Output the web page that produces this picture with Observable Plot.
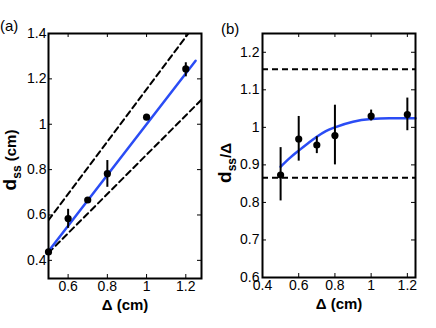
<!DOCTYPE html>
<html>
<head>
<meta charset="utf-8">
<script src="https://cdn.jsdelivr.net/npm/d3@7"></script>
<script src="https://cdn.jsdelivr.net/npm/@observablehq/plot@0.6"></script>
<style>
  body { margin: 0; background: #fff; }
  #wrap { position: relative; width: 436px; height: 328px; overflow: hidden; font-family: "Liberation Sans", Arial, sans-serif; }
  .panel { position: absolute; top: 0; }
  .panel svg { overflow: visible; }
  .tag { position: absolute; font-size: 15px; color: #000; }
</style>
</head>
<body>
<div id="wrap">
  <div class="panel" id="pa" style="left:0"></div>
  <div class="panel" id="pb" style="left:218px"></div>
  <div class="tag" style="left:0px; top:17px">(a)</div>
  <div class="tag" style="left:221px; top:20px">(b)</div>
</div>
<script>
// ---------- data ----------
// panel (a): d_ss vs Delta
const deltaA = [0.5, 0.6, 0.7, 0.8, 1.0, 1.2];
const dssA   = [0.437, 0.584, 0.666, 0.782, 1.031, 1.244];
const dssLoA = [0.437, 0.541, 0.655, 0.722, 1.025, 1.209];
const dssHiA = [0.437, 0.625, 0.677, 0.840, 1.037, 1.271];
const fitAx = [0.5, 1.25];
const fitAy = [0.44, 1.28];
const upperAx = [0.5, 1.25];
const upperAy = [0.577, 1.443];
const lowerAx = [0.5, 1.28];
const lowerAy = [0.433, 1.108];
const xTicksA = [0.6, 0.8, 1, 1.2];
const yTicksA = [0.4, 0.6, 0.8, 1, 1.2, 1.4];

// panel (b): d_ss / Delta vs Delta
const deltaB = [0.5, 0.6, 0.7, 0.8, 1.0, 1.2];
const ratioB   = [0.873, 0.969, 0.953, 0.978, 1.030, 1.034];
const ratioLoB = [0.804, 0.910, 0.930, 0.900, 1.017, 0.991];
const ratioHiB = [0.946, 1.029, 0.975, 1.059, 1.046, 1.078];
const fitBx = [0.5, 0.55, 0.6, 0.65, 0.7, 0.75, 0.8, 0.9, 1.0, 1.1, 1.245];
const fitBy = [0.895, 0.918, 0.938, 0.957, 0.975, 0.99, 1.0, 1.015, 1.022, 1.024, 1.024];
const upperB = 1.155;
const lowerB = 0.866;
const xTicksB = [0.4, 0.6, 0.8, 1, 1.2];
const yTicksB = [0.6, 0.7, 0.8, 0.9, 1, 1.1, 1.2];

const BLUE = "#2a4cf5";
const FONT = "Liberation Sans, Arial, sans-serif";

const ptsA = deltaA.map((x, i) => ({x, y: dssA[i], lo: dssLoA[i], hi: dssHiA[i]}));
const ptsB = deltaB.map((x, i) => ({x, y: ratioB[i], lo: ratioLoB[i], hi: ratioHiB[i]}));
const zip = (xs, ys) => xs.map((x, i) => ({x, y: ys[i]}));

function frameTicks(xt, yt, fw, fh, len) {
  return [
    Plot.tickX(xt, {x: d => d, insetTop: fh - len, stroke: "black"}),
    Plot.tickX(xt, {x: d => d, insetBottom: fh - len, stroke: "black"}),
    Plot.tickY(yt, {y: d => d, insetRight: fw - len, stroke: "black"}),
    Plot.tickY(yt, {y: d => d, insetLeft: fw - len, stroke: "black"})
  ];
}

function yLabel(svg, x, y, sub, rest) {
  const t = d3.select(svg).append("text")
    .attr("transform", `translate(${x},${y}) rotate(-90)`)
    .attr("text-anchor", "middle")
    .attr("font-family", FONT)
    .attr("font-weight", "bold")
    .attr("fill", "black");
  t.append("tspan").attr("font-size", 19).text("d");
  t.append("tspan").attr("font-size", 12).attr("dy", 5).text(sub);
  t.append("tspan").attr("font-size", 15).attr("dy", -5).text(rest);
}

// ---------- panel (a) ----------
{
  const W = 218, H = 328, mL = 48, mR = 17, mT = 33, mB = 50;
  const fw = W - mL - mR, fh = H - mT - mB;
  const svg = Plot.plot({
    width: W, height: H,
    marginLeft: mL, marginRight: mR, marginTop: mT, marginBottom: mB,
    style: {fontFamily: FONT, fontSize: "14px", color: "black", background: "transparent", overflow: "visible"},
    x: {domain: [0.5, 1.28]},
    y: {domain: [0.32, 1.4]},
    marks: [
      Plot.line(zip(upperAx, upperAy), {x: "x", y: "y", stroke: "black", strokeWidth: 2, strokeDasharray: "6,4", clip: true}),
      Plot.line(zip(lowerAx, lowerAy), {x: "x", y: "y", stroke: "black", strokeWidth: 2, strokeDasharray: "6,4", clip: true}),
      Plot.line(zip(fitAx, fitAy), {x: "x", y: "y", stroke: BLUE, strokeWidth: 2.5}),
      Plot.ruleX(ptsA, {x: "x", y1: "lo", y2: "hi", stroke: "black", strokeWidth: 2}),
      Plot.dot(ptsA, {x: "x", y: "y", r: 3.6, fill: "black"}),
      ...frameTicks(xTicksA, yTicksA, fw, fh, 4),
      Plot.frame({stroke: "black", strokeWidth: 2}),
      Plot.axisX({ticks: xTicksA, tickSize: 0, tickPadding: 3, tickFormat: d => String(d), label: null, fontSize: 14}),
      Plot.axisY({ticks: yTicksA, tickSize: 0, tickPadding: 2, tickFormat: d => String(d), label: null, fontSize: 14}),
      Plot.text(["\u0394 (cm)"], {frameAnchor: "bottom", dy: 31, fontWeight: "bold", fontSize: 15, fill: "black"})
    ]
  });
  document.getElementById("pa").appendChild(svg);
  yLabel(svg, 16, 160, "ss", " (cm)");
}

// ---------- panel (b) ----------
{
  const W = 218, H = 328, mL = 44, mR = 21, mT = 33, mB = 51;
  const fw = W - mL - mR, fh = H - mT - mB;
  const svg = Plot.plot({
    width: W, height: H,
    marginLeft: mL, marginRight: mR, marginTop: mT, marginBottom: mB,
    style: {fontFamily: FONT, fontSize: "14px", color: "black", background: "transparent", overflow: "visible"},
    x: {domain: [0.4, 1.245]},
    y: {domain: [0.6, 1.25]},
    marks: [
      Plot.ruleY([upperB, lowerB], {stroke: "black", strokeWidth: 2, strokeDasharray: "6,4"}),
      Plot.line(zip(fitBx, fitBy), {x: "x", y: "y", stroke: BLUE, strokeWidth: 2.5, curve: "monotone-x"}),
      Plot.ruleX(ptsB, {x: "x", y1: "lo", y2: "hi", stroke: "black", strokeWidth: 2}),
      Plot.dot(ptsB, {x: "x", y: "y", r: 3.6, fill: "black"}),
      ...frameTicks(xTicksB, yTicksB, fw, fh, 4),
      Plot.frame({stroke: "black", strokeWidth: 2}),
      Plot.axisX({ticks: xTicksB, tickSize: 0, tickPadding: 3, tickFormat: d => String(d), label: null, fontSize: 14}),
      Plot.axisY({ticks: yTicksB, tickSize: 0, tickPadding: 3, tickFormat: d => String(d), label: null, fontSize: 14}),
      Plot.text(["\u0394 (cm)"], {frameAnchor: "bottom", dy: 31, fontWeight: "bold", fontSize: 15, fill: "black"})
    ]
  });
  document.getElementById("pb").appendChild(svg);
  yLabel(svg, 13, 163, "ss", "/\u0394");
}
</script>
</body>
</html>
